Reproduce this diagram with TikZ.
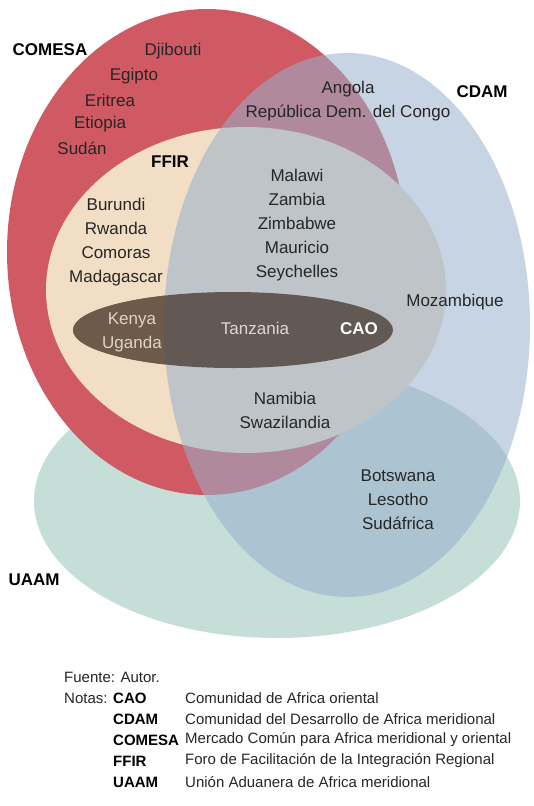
\documentclass[tikz,border=0pt]{standalone}
\usepackage{fontspec}
\setmainfont{Liberation Sans}
\definecolor{comesared}{RGB}{208,90,99}
\definecolor{ffirbeige}{RGB}{241,222,196}
\definecolor{uaamgreen}{RGB}{198,222,216}
\definecolor{cdamblue}{RGB}{151,176,204}
\definecolor{caogray}{RGB}{98,88,84}
\definecolor{caobrown}{RGB}{110,90,75}
\definecolor{inktext}{RGB}{38,38,38}
\def\pais{\node[pais]}
\def\grupo{\node[grupo]}
\def\nota{\node[nota]}

\begin{document}
\begin{tikzpicture}[x=1pt,y=-1pt,
  pais/.style={text=inktext,font=\fontsize{17}{24}\selectfont,align=center,inner sep=0pt},
  grupo/.style={font=\fontsize{17}{24}\selectfont\bfseries,inner sep=0pt},
  nota/.style={anchor=west,text=inktext,font=\fontsize{15}{21}\selectfont,inner sep=0pt},
  sigla/.style={nota,font=\fontsize{15}{21}\selectfont\bfseries,text=black}]
\useasboundingbox (0,0) rectangle (533,806);
\fill[uaamgreen] (277,501) ellipse [x radius=243pt,y radius=137pt];
\fill[comesared] (207,252) ellipse [x radius=200pt,y radius=243pt];
\fill[ffirbeige] (246,290) ellipse [x radius=200pt,y radius=163pt];
\fill[cdamblue,fill opacity=0.55] (347,325) ellipse [x radius=183pt,y radius=272pt];
\fill[caogray] (233,330) ellipse [x radius=160pt,y radius=38pt];
\begin{scope}
\clip (233,330) ellipse [x radius=160pt,y radius=38pt];
\fill[caobrown,even odd rule] (0,0) rectangle (533,806) (347,325) ellipse [x radius=183pt,y radius=272pt];
\end{scope}

\grupo (comesa) at (50,50) {COMESA};
\grupo (cdam) at (482,92) {CDAM};
\grupo (ffir) at (170,162) {FFIR};
\grupo (uaam) at (34,580) {UAAM};
\grupo[text=white] (cao) at (359,329) {CAO};

\pais (djibouti) at (173,51) {Djibouti};
\pais (egipto) at (134,76) {Egipto};
\pais (eritrea) at (110,100) {Eritrea};
\pais (etiopia) at (100,124) {Etiopia};
\pais (sudan) at (82,148) {Sudán};
\pais (angola) at (348,101) {Angola\\República Dem. del Congo};
\pais (malawi) at (297,225) {Malawi\\Zambia\\Zimbabwe\\Mauricio\\Seychelles};
\pais (burundi) at (116,242) {Burundi\\Rwanda\\Comoras\\Madagascar};
\pais (mozambique) at (455,302) {Mozambique};
\pais[text={rgb,255:red,226;green,212;blue,196}] (kenya) at (132,332) {Kenya\\Uganda};
\pais[text={rgb,255:red,218;green,216;blue,214}] (tanzania) at (255,328) {Tanzania};
\pais (namibia) at (285,410) {Namibia\\Swazilandia};
\pais (botswana) at (398,500) {Botswana\\Lesotho\\Sudáfrica};

\nota (fuente) at (64,677) {Fuente: Autor.};
\nota (notas) at (64,698) {Notas:};
\node[sigla] (scao) at (113,698) {CAO};
\node[sigla] (scdam) at (113,719) {CDAM};
\node[sigla] (scomesa) at (113,740) {COMESA};
\node[sigla] (sffir) at (113,761) {FFIR};
\node[sigla] (suaam) at (113,782) {UAAM};
\nota (dcao) at (185,698) {Comunidad de Africa oriental};
\nota (dcdam) at (185,719) {Comunidad del Desarrollo de Africa meridional};
\nota (dcomesa) at (185,740) {Mercado Común para Africa meridional y oriental};
\nota (dffir) at (185,761) {Foro de Facilitación de la Integración Regional};
\nota (duaam) at (185,782) {Unión Aduanera de Africa meridional};
\end{tikzpicture}
\end{document}
